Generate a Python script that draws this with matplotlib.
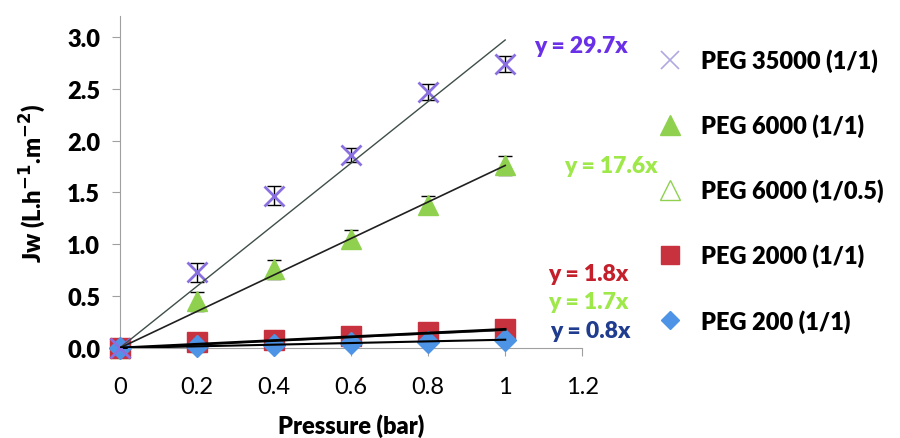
import numpy as np
import matplotlib.pyplot as plt
from matplotlib.lines import Line2D

plt.rcParams['font.family'] = ['Lato', 'DejaVu Sans']

# data
pressure = [0, 0.2, 0.4, 0.6, 0.8, 1.0]
peg35000 = [0, 0.73, 1.47, 1.86, 2.47, 2.74]
peg35000_err = [0, 0.09, 0.09, 0.07, 0.08, 0.08]
peg6000 = [0, 0.45, 0.76, 1.05, 1.38, 1.76]
peg6000_err = [0, 0.09, 0.09, 0.09, 0.09, 0.09]
peg6000b = [0, 0.03, 0.06, 0.10, 0.13, 0.17]
peg2000 = [0, 0.06, 0.08, 0.12, 0.15, 0.18]
peg2000_err = [0, 0.02, 0.07, 0.02, 0.02, 0.02]
peg200 = [0, 0.02, 0.03, 0.05, 0.06, 0.08]

slopes = [2.97, 1.76, 0.17, 0.18, 0.08]
eq_labels = ['y = 29.7x', 'y = 17.6x', 'y = 1.7x', 'y = 1.8x', 'y = 0.8x']
legend_labels = ['PEG 35000 (1/1)', 'PEG 6000 (1/1)', 'PEG 6000 (1/0.5)',
                 'PEG 2000 (1/1)', 'PEG 200 (1/1)']

c_purple = '#8a6fe0'
c_green = '#8fd14f'
c_red = '#c8323f'
c_blue = '#4d94e6'
W = 'heavy'

fig = plt.figure(figsize=(9, 4.39), dpi=100)
ax = fig.add_axes([0.133, 0.205, 0.514, 0.756])

x = np.array(pressure)

# markers
ax.errorbar(x, peg6000, yerr=peg6000_err, fmt='none', ecolor='black', elinewidth=1, capsize=5, zorder=3)
ax.plot(x, peg6000, '^', color=c_green, ms=15, zorder=4, clip_on=False)
ax.plot(x, peg6000b, '^', mfc='white', mec=c_green, ms=10, zorder=2, clip_on=False)
ax.plot(x, peg2000, 's', color=c_red, ms=15, zorder=4, clip_on=False)
ax.plot(x, peg200, 'D', color=c_blue, ms=11, zorder=5, clip_on=False)
ax.errorbar(x, peg35000, yerr=peg35000_err, fmt='none', ecolor='black', elinewidth=1, capsize=5, zorder=6)
ax.plot(x, peg35000, 'x', color=c_purple, ms=15, mew=2, zorder=6, clip_on=False)

# trend lines
ax.plot(x, slopes[0] * x, color='#3f4f48', lw=1, zorder=7)
ax.plot(x, slopes[1] * x, color='#202020', lw=1.2, zorder=7)
ax.plot(x, slopes[2] * x, color='#555555', lw=1, zorder=7)
ax.plot(x, slopes[3] * x, color='black', lw=2, zorder=7)
ax.plot(x, slopes[4] * x, color='black', lw=1.5, zorder=7)

# equations
eq_kw = dict(fontsize=16.5, fontweight=W, ha='left', va='center')
ax.text(1.075, 2.92, eq_labels[0], color='#6a30e8', **eq_kw)
ax.text(1.152, 1.76, eq_labels[1], color='#9ee84a', **eq_kw)
ax.text(1.112, 0.72, eq_labels[3], color='#c4202c', **eq_kw)
ax.text(1.112, 0.45, eq_labels[2], color='#9ee84a', **eq_kw)
ax.text(1.117, 0.17, eq_labels[4], color='#1f3c8f', **eq_kw)

ax.set_xlim(0, 1.2)
ax.set_ylim(0, 3.2)
ax.set_xticks([0, 0.2, 0.4, 0.6, 0.8, 1.0, 1.2])
ax.set_xticklabels(['0', '0.2', '0.4', '0.6', '0.8', '1', '1.2'])
ax.set_yticks([0, 0.5, 1.0, 1.5, 2.0, 2.5, 3.0])
ax.set_yticklabels(['0.0', '0.5', '1.0', '1.5', '2.0', '2.5', '3.0'])

for s in ['top', 'right']:
    ax.spines[s].set_visible(False)
for s in ['left', 'bottom']:
    ax.spines[s].set_color('#a0a0a0')
ax.tick_params(axis='both', color='#a0a0a0', length=6, direction='out')
ax.tick_params(axis='x', labelsize=17, pad=14)
ax.tick_params(axis='y', labelsize=17, pad=8)
for lab in ax.get_yticklabels():
    lab.set_fontweight(W)

ax.set_xlabel('Pressure (bar)', fontsize=17, fontweight=W, labelpad=12)
ax.set_ylabel('Jw (L.h$^{\\mathbf{-1}}$.m$^{\\mathbf{-2}}$)', fontsize=17, fontweight=W, labelpad=14)

handles = [
    Line2D([], [], ls='none', marker='x', color='#b0a8e0', ms=13, mew=1.2),
    Line2D([], [], ls='none', marker='^', color=c_green, ms=14),
    Line2D([], [], ls='none', marker='^', mfc='white', mec=c_green, ms=14),
    Line2D([], [], ls='none', marker='s', color=c_red, ms=13),
    Line2D([], [], ls='none', marker='D', color=c_blue, ms=9),
]
fig.legend(handles, legend_labels, loc='upper left', bbox_to_anchor=(0.70, 0.935),
           frameon=False, labelspacing=1.75, handletextpad=0.5, handlelength=1.6,
           prop={'weight': W, 'size': 17})

fig.savefig('out.png', dpi=100)
